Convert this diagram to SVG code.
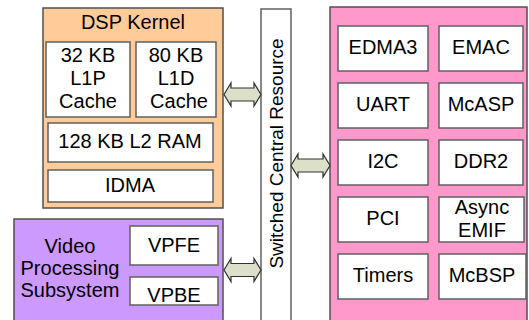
<svg xmlns="http://www.w3.org/2000/svg" width="529" height="320" viewBox="0 0 529 320">
<style>
text{font-family:"Liberation Sans",Arial,sans-serif;font-size:20px;fill:#000;text-anchor:middle}
.in{fill:#fff;stroke:#606060;stroke-width:1.5}
.out{stroke:#505050;stroke-width:1.5}
.arr{fill:#DCE0C8;stroke:#303030;stroke-width:1.2;stroke-linejoin:miter}
</style>
<rect width="529" height="320" fill="#fff"/>
<g id="dsp-kernel">
<rect class="out" x="43" y="8" width="180" height="200" fill="#FFCC99"/>
<text x="133" y="29">DSP Kernel</text>
<g id="l1p"><rect class="in" x="46" y="42" width="84" height="75"/>
<text x="88" y="62">32 KB</text><text x="88" y="85">L1P</text><text x="88" y="108">Cache</text></g>
<g id="l1d"><rect class="in" x="136" y="42" width="80" height="75"/>
<text x="176" y="62">80 KB</text><text x="176" y="85">L1D</text><text x="179" y="108">Cache</text></g>
<g id="l2ram"><rect class="in" x="48" y="123" width="165" height="39"/>
<text x="130" y="148">128 KB L2 RAM</text></g>
<g id="idma"><rect class="in" x="48" y="170" width="165" height="32"/>
<text x="130" y="192">IDMA</text></g>
</g>
<g id="video">
<rect class="out" x="14" y="219" width="209" height="110" fill="#CC99FF"/>
<text x="70" y="253">Video</text><text x="70" y="275">Processing</text><text x="70" y="297">Subsystem</text>
<g id="vpfe"><rect class="in" x="130" y="226" width="88" height="39"/><text x="174" y="252">VPFE</text></g>
<g id="vpbe"><rect class="in" x="130" y="277" width="88" height="28"/><text x="174" y="302">VPBE</text></g>
</g>
<g id="scr">
<rect x="261" y="9" width="30" height="320" fill="#fff" stroke="#606060" stroke-width="1.5"/>
<text transform="translate(283,153.5) rotate(-90)" style="font-size:19px">Switched Central Resource</text>
</g>
<g id="peripherals">
<rect class="out" x="330" y="7" width="197" height="322" fill="#FF99CC"/>
<g id="edma3"><rect class="in" x="338" y="26" width="90" height="45"/><text x="383" y="54">EDMA3</text></g>
<g id="emac"><rect class="in" x="439" y="26" width="84" height="45"/><text x="481" y="54">EMAC</text></g>
<g id="uart"><rect class="in" x="338" y="83" width="90" height="45"/><text x="383" y="111">UART</text></g>
<g id="mcasp"><rect class="in" x="439" y="83" width="84" height="45"/><text x="481" y="111">McASP</text></g>
<g id="i2c"><rect class="in" x="338" y="140" width="90" height="45"/><text x="383" y="168">I2C</text></g>
<g id="ddr2"><rect class="in" x="439" y="140" width="84" height="45"/><text x="481" y="168">DDR2</text></g>
<g id="pci"><rect class="in" x="338" y="197" width="90" height="45"/><text x="383" y="225">PCI</text></g>
<g id="emif"><rect class="in" x="439" y="197" width="85" height="45"/><text x="482" y="214">Async</text><text x="482" y="237">EMIF</text></g>
<g id="timers"><rect class="in" x="338" y="254" width="90" height="45"/><text x="383" y="282">Timers</text></g>
<g id="mcbsp"><rect class="in" x="439" y="254" width="87" height="45"/><text x="482" y="282">McBSP</text></g>
</g>
<g id="connectors">
<path class="arr" d="M224,94.5 L231,83 L231,88 L254,88 L254,83 L261,94.5 L254,106 L254,101 L231,101 L231,106 Z"/>
<path class="arr" d="M224,270 L231,258.5 L231,263.5 L254,263.5 L254,258.5 L261,270 L254,281.5 L254,276.5 L231,276.5 L231,281.5 Z"/>
<path class="arr" d="M291,165.5 L298,154 L298,159 L323,159 L323,154 L330,165.5 L323,177 L323,172 L298,172 L298,177 Z"/>
</g>
</svg>
